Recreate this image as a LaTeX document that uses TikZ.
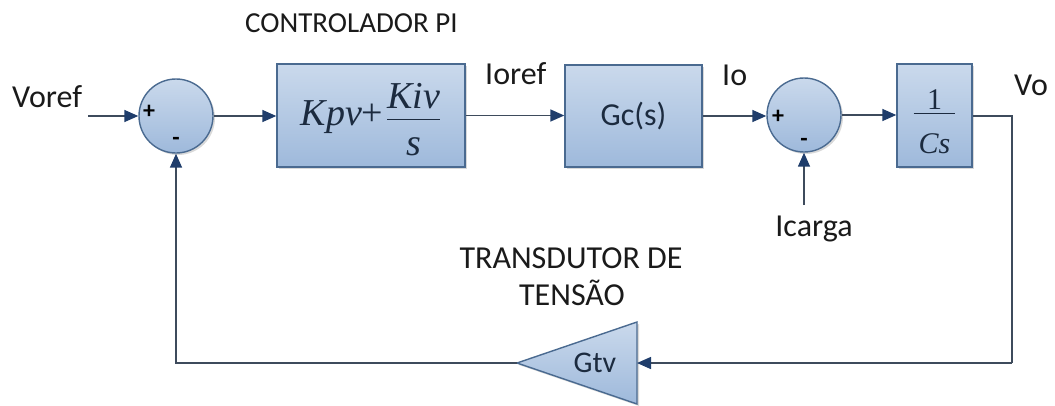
\documentclass[tikz,border=0pt]{standalone}
\usepackage{fontspec}
\setmainfont{Carlito}
\newfontfamily\tms{Liberation Serif}
\usetikzlibrary{arrows.meta,shadows}
\definecolor{fillA}{HTML}{CAD9EC}
\definecolor{fillB}{HTML}{9EB9DB}
\definecolor{edgec}{HTML}{4A6A90}
\definecolor{linec}{HTML}{3E4B5C}
\definecolor{arrowc}{HTML}{1F3D6B}
\definecolor{txtc}{HTML}{1A1A1A}
\definecolor{blktxt}{HTML}{1C2B3F}
\begin{document}
\begin{tikzpicture}[x=1pt,y=-1pt,
  blk/.style={draw=edgec,line width=1.4pt,top color=fillA,bottom color=fillB,
    drop shadow={opacity=0.3,shadow xshift=2pt,shadow yshift=-2pt},
    inner sep=0pt,text=blktxt},
  sumc/.style={circle,draw=edgec,line width=1.4pt,top color=fillA,bottom color=fillB,
    drop shadow={opacity=0.3,shadow xshift=2pt,shadow yshift=-2pt},
    minimum size=74pt,inner sep=0pt},
  lbl/.style={font=\fontsize{32}{36}\selectfont,text=txtc,inner sep=0pt},
  sgn/.style={font=\fontsize{24}{26}\selectfont\bfseries,text=black,inner sep=0pt},
  wire/.style={draw=linec,line width=1.5pt},
  arr/.style={wire,-{Triangle[length=14pt,width=12pt,color=arrowc]}}
]
\useasboundingbox (0,0) rectangle (1055,405);

% labels
\node[lbl,anchor=base west,font=\fontsize{29}{33}\selectfont] (ctl) at (245,32) {CONTROLADOR PI};
\node[lbl,anchor=base west] (voref) at (12,107) {Voref};
\node[lbl,anchor=base west] (ioref) at (485,84) {Ioref};
\node[lbl,anchor=base west] (io) at (722,85) {Io};
\node[lbl,anchor=base west] (vo) at (1014,95) {Vo};
\node[lbl,anchor=base] (icarga) at (814,236) {Icarga};
\node[lbl,anchor=base] (tr1) at (571,268) {TRANSDUTOR DE};
\node[lbl,anchor=base] (tr2) at (572,305) {TENSÃO};

% summing junctions
\node[sumc] (s1) at (176,116) {};
\node[sgn] (s1p) at (149,112) {+};
\node[sgn] (s1m) at (176,141) {-};
\node[sumc] (s2) at (804,115) {};
\node[sgn] (s2p) at (778,117) {+};
\node[sgn] (s2m) at (804,142) {-};

% blocks
\node[blk,minimum width=188pt,minimum height=103pt] (pi) at (371,115.5)
  {\fontsize{38}{42}\selectfont{\tms\itshape Kpv}{\tms+}$\mkern2mu\displaystyle\frac{\hbox{\rule{0pt}{33pt}\tms\itshape Kiv}}{\hbox{\rule{0pt}{35pt}\tms\itshape s}}$};
\node[blk,minimum width=137pt,minimum height=102pt,font=\fontsize{32}{36}\selectfont] (gc) at (633.5,116) {Gc(s)};
\node[blk,minimum width=75pt,minimum height=103pt] (cs) at (934.5,115.5)
  {\fontsize{30}{34}\selectfont$\textstyle\frac{\hbox{\rule{0pt}{32pt}\tms 1}}{\hbox{\rule{0pt}{40pt}\tms\itshape\,Cs\,}}$};

% triangle (transducer)
\coordinate (tapex) at (517,363);
\coordinate (ttop) at (637,322);
\coordinate (tbot) at (637,404);
\coordinate (tbase) at (637,363);
\path[draw=edgec,line width=1.4pt,top color=fillA,bottom color=fillB,
  drop shadow={opacity=0.3,shadow xshift=2pt,shadow yshift=-2pt}]
  (tapex) -- (ttop) -- (tbot) -- cycle;
\node[font=\fontsize{30}{34}\selectfont,text=blktxt,inner sep=0pt] (gtv) at (595,363) {Gtv};

% connectors
\coordinate (vin) at (88,116);
\coordinate (vout) at (1012,116);
\coordinate (fbr) at (1012,363);
\coordinate (fbl) at (176,363);
\coordinate (iin) at (804,205);
\draw[arr] (vin) -- (s1.west);
\draw[arr] (s1.east) -- (s1.east -| pi.west);
\draw[arr] (pi.east) -- (pi.east -| gc.west);
\draw[arr] (gc.east) -- (gc.east -| s2.west);
\draw[arr] (s2.east) -- (s2.east -| cs.west);
\draw[wire] (cs.east |- vout) -- (vout) -- (fbr);
\draw[arr] (fbr) -- (tbase);
\draw[arr] (tapex) -- (fbl) -- (s1.south);
\draw[arr] (iin) -- (s2.south);
\end{tikzpicture}
\end{document}
